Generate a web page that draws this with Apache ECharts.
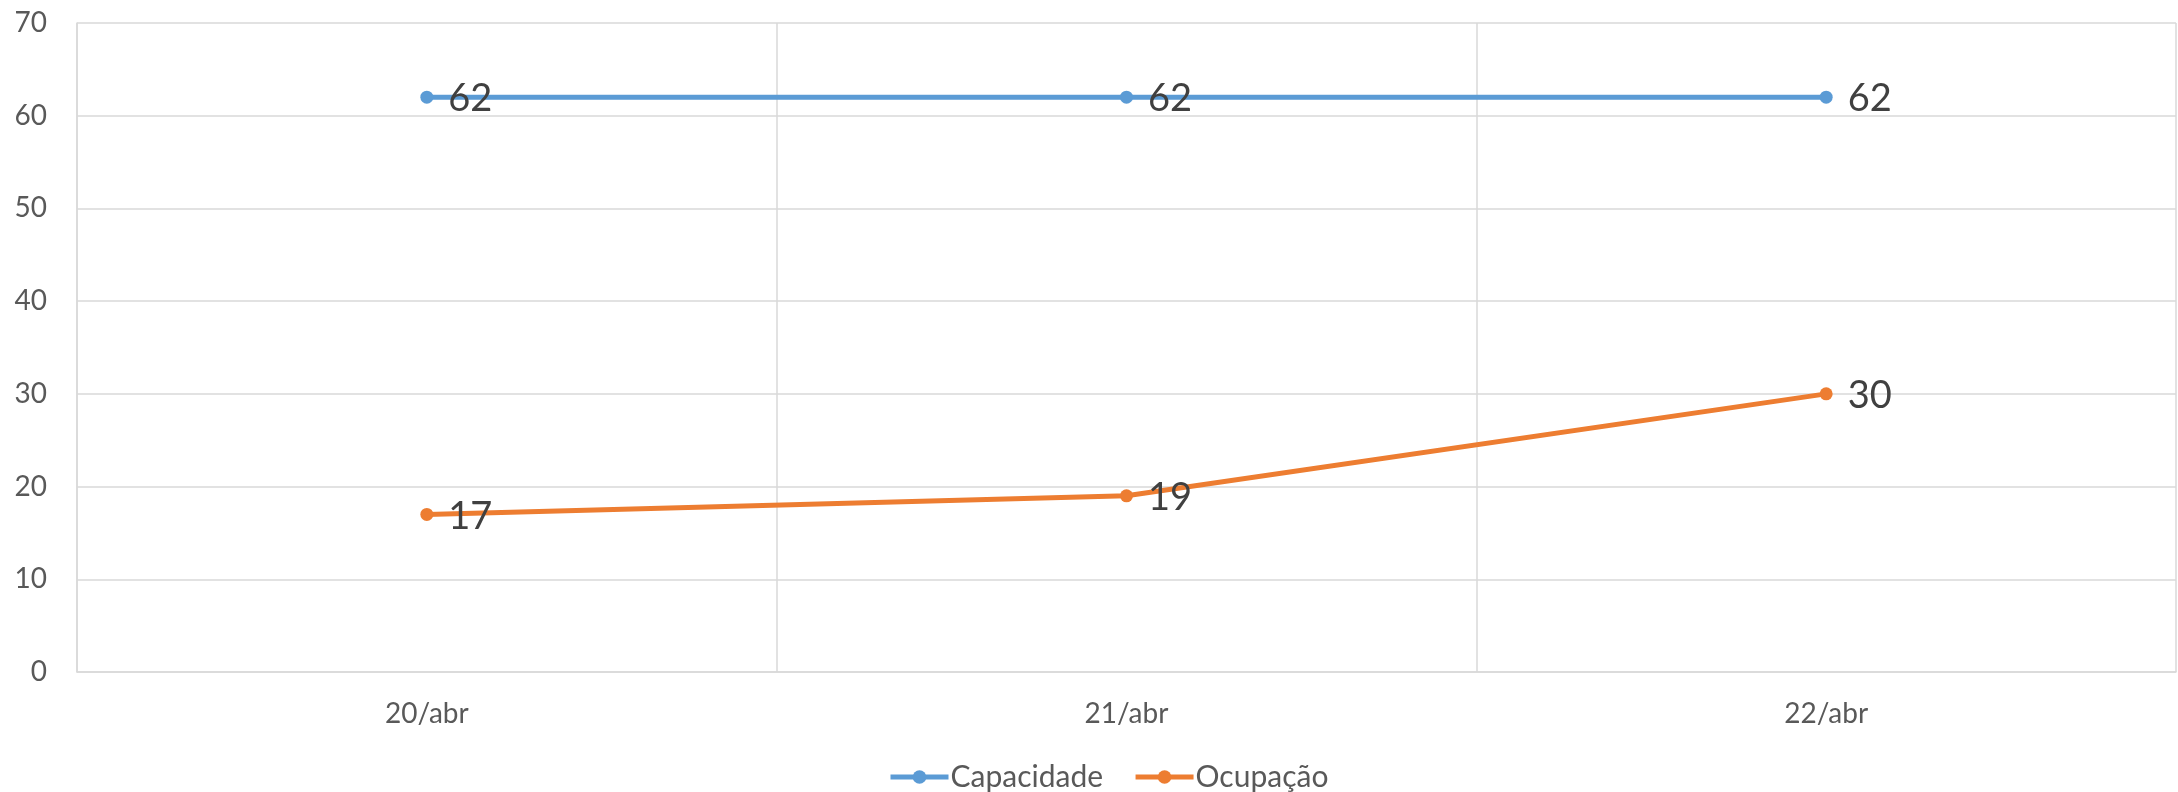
<!DOCTYPE html>
<html>
<head>
<meta charset="utf-8">
<script src="https://cdn.jsdelivr.net/npm/echarts@6/dist/echarts.min.js"></script>
<style>
html,body{margin:0;padding:0;background:#fff;}
#chart{width:2178px;height:792px;}
</style>
</head>
<body>
<div id="chart"></div>
<script>
const categories = ['20/abr', '21/abr', '22/abr'];
const capacidade = [62, 62, 62];
const ocupacao = [17, 19, 30];
const seriesNames = ['Capacidade', 'Ocupação'];
const yTicks = { min: 0, max: 70, interval: 10 };

const FONT = 'Lato';
const chart = echarts.init(document.getElementById('chart'));
const gridColor = '#d9d9d9';
function lineSeries(name, data, color) {
  return {
    name: name,
    type: 'line',
    data: data,
    symbol: 'circle',
    symbolSize: 13,
    lineStyle: { color: color, width: 5 },
    itemStyle: { color: color },
    label: {
      show: true,
      position: 'right',
      distance: 15,
      color: '#404040',
      fontSize: 38,
      fontFamily: FONT,
      offset: [0, 2]
    },
    emphasis: { disabled: true },
    z: 3
  };
}
chart.setOption({
  animation: false,
  backgroundColor: '#ffffff',
  textStyle: { fontFamily: FONT },
  grid: { left: 77, right: 2, top: 23, bottom: 120, containLabel: false },
  legend: {
    data: seriesNames,
    top: 757,
    left: 883,
    itemWidth: 58,
    itemHeight: 17,
    itemGap: 30,
    lineStyle: { width: 5 },
    textStyle: { fontSize: 30, color: '#595959', fontFamily: FONT, padding: [0, 0, 0, -3] }
  },
  xAxis: {
    type: 'category',
    data: categories,
    boundaryGap: true,
    axisLine: { show: true, lineStyle: { color: gridColor, width: 1.5 } },
    axisTick: { show: false },
    splitLine: { show: true, lineStyle: { color: gridColor, width: 1.5 } },
    axisLabel: { color: '#595959', fontSize: 28, fontFamily: FONT, margin: 28 }
  },
  yAxis: {
    type: 'value',
    min: yTicks.min,
    max: yTicks.max,
    interval: yTicks.interval,
    axisLine: { show: true, lineStyle: { color: gridColor, width: 1.5 } },
    axisTick: { show: false },
    splitLine: { show: true, lineStyle: { color: gridColor, width: 1.5 } },
    axisLabel: { color: '#595959', fontSize: 28, fontFamily: FONT, margin: 30 }
  },
  series: [
    lineSeries(seriesNames[0], capacidade, '#5B9BD5'),
    lineSeries(seriesNames[1], ocupacao, '#ED7D31')
  ]
});
</script>
</body>
</html>
